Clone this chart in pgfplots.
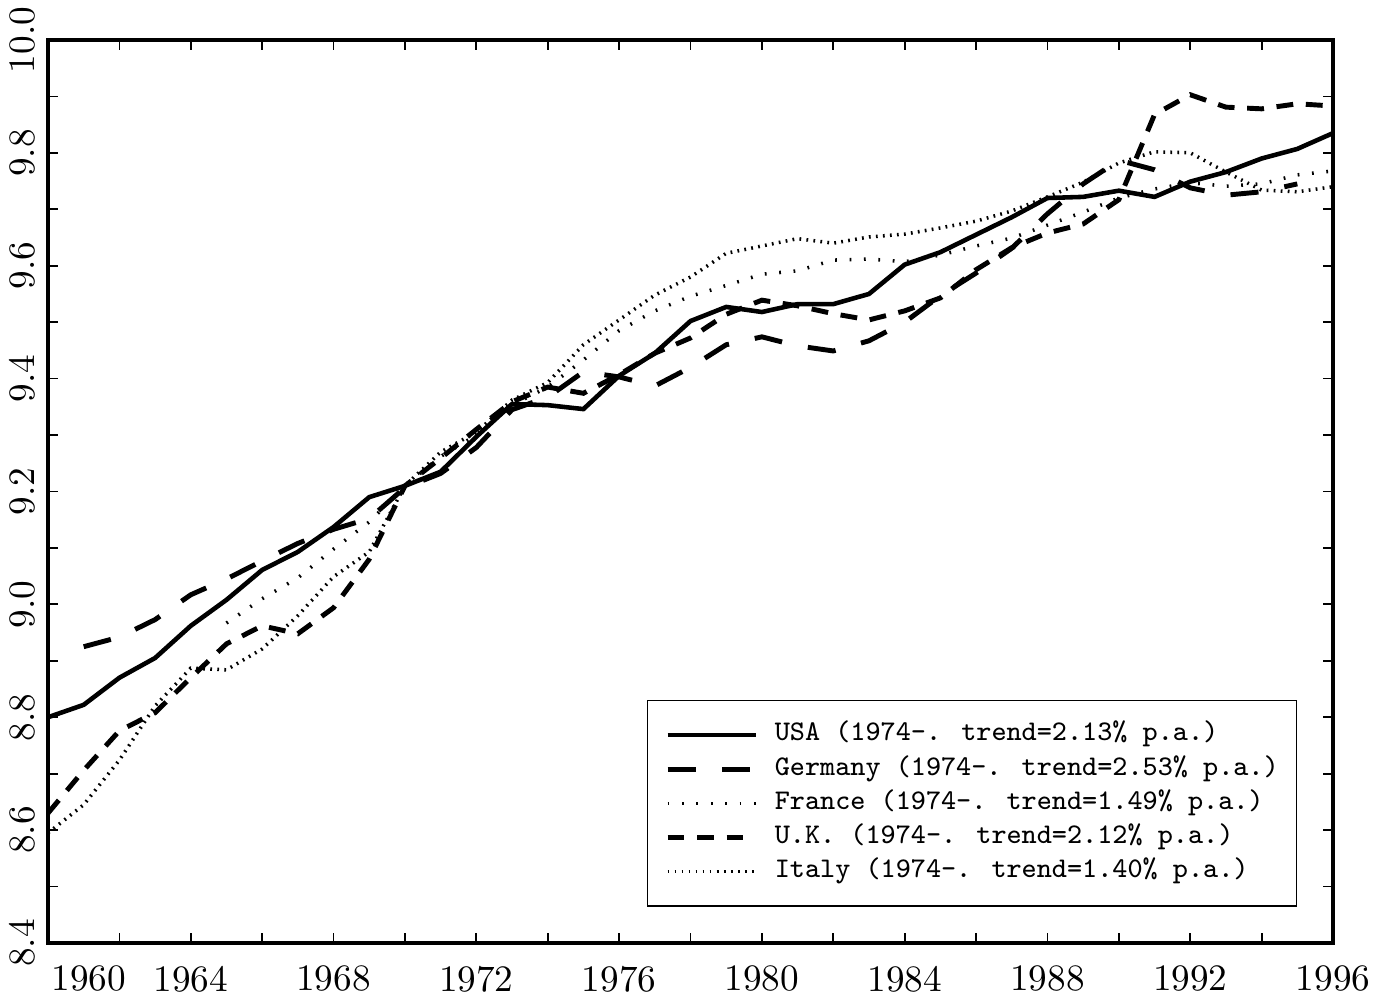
\documentclass[border=0pt]{standalone}
\usepackage{pgfplots}
\pgfplotsset{compat=1.18}

\begin{document}
\begin{tikzpicture}
\begin{axis}[
    scale only axis,
    width=12.85cm, height=9.03cm,
    xmin=1960, xmax=1996, ymin=8.4, ymax=10.0,
    xtick={1964,1968,...,1996},
    minor xtick={1962,1966,...,1994},
    extra x ticks={1960},
    extra x tick style={xticklabel style={anchor=north west, xshift=-2.5pt}},
    ytick={8.4,8.6,8.8,9.0,9.2,9.4,9.6,9.8,10.0},
    minor ytick={8.5,8.7,8.9,9.1,9.3,9.5,9.7,9.9},
    major tick length=0.1cm, minor tick length=0.1cm,
    tick style={line width=0.5pt, black},
    axis line style={line width=1.1pt},
    tick label style={font=\rmfamily\fontsize{10.6}{12}\selectfont},
    /pgf/number format/assume math mode=true,
    /pgf/number format/1000 sep={},
    xticklabel style={anchor=north, yshift=-3pt},
    yticklabel style={rotate=90, anchor=south,
        /pgf/number format/.cd, fixed, fixed zerofill, precision=1},
    legend image code/.code={\draw[#1] (0cm,0cm) -- (0.88cm,0cm);},
    legend cell align=left,
    legend style={at={(0.972,0.040)}, anchor=south east,
        draw=black, line width=0.4pt,
        font=\ttfamily\fontsize{8.1}{10}\selectfont,
        nodes={inner sep=0pt, text height=6.5pt, text depth=3.2pt},
        column sep=4.8pt, row sep=0pt,
        inner xsep=5pt, inner ysep=5pt},
]

% USA
\addplot[black, mark=none, line width=1.3pt] coordinates {
(1960,8.800) (1961,8.822) (1962,8.870) (1963,8.905) (1964,8.962) (1965,9.008)
(1966,9.061) (1967,9.093) (1968,9.137) (1969,9.190) (1970,9.210) (1971,9.235)
(1972,9.297) (1973,9.355) (1974,9.353) (1975,9.346) (1976,9.405) (1977,9.445)
(1978,9.502) (1979,9.527) (1980,9.518) (1981,9.532) (1982,9.532) (1983,9.550)
(1984,9.602) (1985,9.624) (1986,9.655) (1987,9.686) (1988,9.720) (1989,9.722)
(1990,9.733) (1991,9.722) (1992,9.749) (1993,9.766) (1994,9.790) (1995,9.807)
(1996,9.835)
};

% Germany
\addplot[black, mark=none, line width=1.4pt, dash pattern=on 8pt off 7.5pt] coordinates {
(1961,8.925) (1962,8.942) (1963,8.973) (1964,9.017) (1965,9.045)
(1966,9.077) (1967,9.108) (1968,9.133) (1969,9.152) (1970,9.207) (1971,9.232)
(1972,9.278) (1973,9.345) (1974,9.367) (1975,9.412) (1976,9.403) (1977,9.387)
(1978,9.420) (1979,9.460) (1980,9.474) (1981,9.458) (1982,9.449) (1983,9.467)
(1984,9.500) (1985,9.547) (1986,9.587) (1987,9.631) (1988,9.692) (1989,9.745)
(1990,9.787) (1991,9.770) (1992,9.738) (1993,9.725) (1994,9.731) (1995,9.745)
};

% France
\addplot[black, mark=none, line width=1pt, dash pattern=on 0.5pt off 3.6pt] coordinates {
(1965,8.967)
(1966,9.010) (1967,9.047) (1968,9.098) (1969,9.146) (1970,9.210) (1971,9.262)
(1972,9.300) (1973,9.353) (1974,9.385) (1975,9.433) (1976,9.485) (1977,9.520)
(1978,9.546) (1979,9.565) (1980,9.585) (1981,9.591) (1982,9.610) (1983,9.612)
(1984,9.607) (1985,9.619) (1986,9.635) (1987,9.649) (1988,9.672) (1989,9.695)
(1990,9.720) (1991,9.736) (1992,9.747) (1993,9.741) (1994,9.745) (1995,9.761)
(1996,9.768)
};

% U.K.
\addplot[black, mark=none, line width=1.4pt, dash pattern=on 4.8pt off 3.6pt] coordinates {
(1960,8.630) (1961,8.706) (1962,8.776) (1963,8.808) (1964,8.870) (1965,8.930)
(1966,8.962) (1967,8.948) (1968,8.994) (1969,9.080) (1970,9.210) (1971,9.259)
(1972,9.310) (1973,9.359) (1974,9.385) (1975,9.374) (1976,9.407) (1977,9.445)
(1978,9.472) (1979,9.514) (1980,9.539) (1981,9.529) (1982,9.515) (1983,9.504)
(1984,9.520) (1985,9.543) (1986,9.593) (1987,9.632) (1988,9.658) (1989,9.674)
(1990,9.717) (1991,9.868) (1992,9.903) (1993,9.881) (1994,9.878) (1995,9.887)
(1996,9.883)
};

% Italy
\addplot[black, mark=none, line width=1pt, dash pattern=on 0.5pt off 1.5pt] coordinates {
(1960,8.595) (1961,8.645) (1962,8.724) (1963,8.820) (1964,8.887) (1965,8.884)
(1966,8.921) (1967,8.980) (1968,9.049) (1969,9.093) (1970,9.210) (1971,9.270)
(1972,9.305) (1973,9.362) (1974,9.393) (1975,9.460) (1976,9.504) (1977,9.548)
(1978,9.580) (1979,9.622) (1980,9.635) (1981,9.648) (1982,9.640) (1983,9.651)
(1984,9.656) (1985,9.667) (1986,9.679) (1987,9.697) (1988,9.722) (1989,9.748)
(1990,9.782) (1991,9.802) (1992,9.800) (1993,9.766) (1994,9.734) (1995,9.731)
(1996,9.740)
};

\legend{USA (1974-. trend=2.13\% p.a.),
        Germany (1974-. trend=2.53\% p.a.),
        France (1974-. trend=1.49\% p.a.),
        U.K. (1974-. trend=2.12\% p.a.),
        Italy (1974-. trend=1.40\% p.a.)}
\end{axis}
\pgfresetboundingbox
\path ([xshift=-0.48cm,yshift=-0.51cm]current axis.south west)
  rectangle ([xshift=0.54cm,yshift=0.40cm]current axis.north east);
\end{tikzpicture}
\end{document}
